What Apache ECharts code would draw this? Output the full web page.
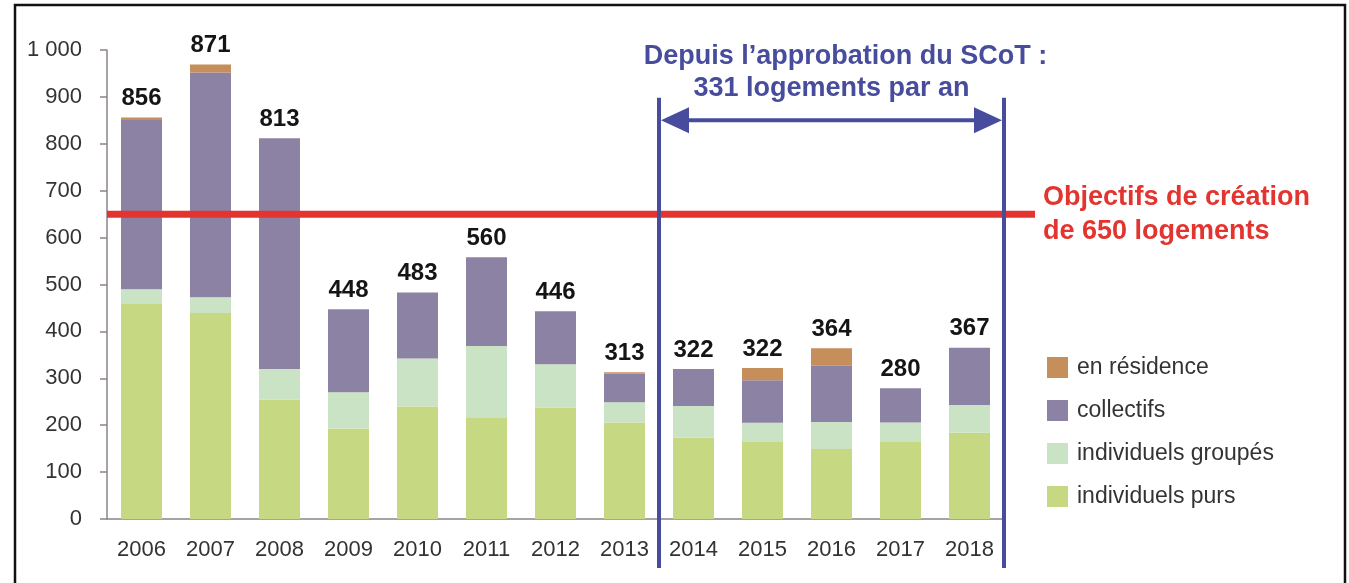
<html>

<head>
    <meta charset='utf-8' />
    <script src="https://cdn.jsdelivr.net/npm/echarts@6/dist/echarts.min.js"></script>
    <title>Logements</title>
    <style>
        html,
        body {
            margin: 0;
            padding: 0;
            background: #fff;
            overflow: hidden;
        }
        
        #chart {
            width: 1349px;
            height: 583px;
        }
    </style>
</head>

<body>
    <div id="chart"></div>
    <script type="text/javascript">
        var years = ['2006', '2007', '2008', '2009', '2010', '2011', '2012', '2013', '2014', '2015', '2016', '2017', '2018'];
        var individuelsPurs = [460, 439, 254, 193, 240, 217, 237, 206, 174, 164, 149, 166, 184];
        var individuelsGroupes = [30, 34, 66, 77, 102, 152, 93, 43, 67, 41, 58, 40, 59];
        var collectifs = [361, 479, 492, 176, 141, 189, 113, 61, 79, 91, 120, 73, 122];
        var enResidence = [5, 17, 0, 2, 0, 0, 0, 3, 0, 26, 37, 0, 0];
        var totalLabels = ['856', '871', '813', '448', '483', '560', '446', '313', '322', '322', '364', '280', '367'];
        var yTicks = [0, 100, 200, 300, 400, 500, 600, 700, 800, 900, 1000];
        var objectif = 650;
        var scotStart = '2014';
        var scotEnd = '2018';

        var font = 'Liberation Sans, Arial, sans-serif';
        var blue = '#474c9c';
        var red = '#e3342f';

        var chart = echarts.init(document.getElementById('chart'));

        var option = {
            animation: false,
            textStyle: {
                fontFamily: font
            },
            grid: {
                left: 107,
                right: 345,
                top: 50,
                bottom: 64
            },
            legend: {
                orient: 'vertical',
                left: 1042,
                top: 351,
                itemWidth: 21,
                itemHeight: 21,
                itemGap: 20,
                icon: 'rect',
                data: ['en résidence', 'collectifs', 'individuels groupés', 'individuels purs'],
                textStyle: {
                    fontSize: 23,
                    color: '#333',
                    padding: [0, 0, 0, 4]
                }
            },
            xAxis: {
                type: 'category',
                data: years,
                axisLine: {
                    lineStyle: {
                        color: '#8c8489',
                        width: 1.5
                    }
                },
                axisTick: {
                    length: 7,
                    lineStyle: {
                        color: '#8c8489',
                        width: 1.5
                    }
                },
                axisLabel: {
                    fontSize: 22,
                    color: '#333',
                    margin: 20
                }
            },
            yAxis: {
                type: 'value',
                min: yTicks[0],
                max: yTicks[yTicks.length - 1],
                interval: 100,
                splitLine: {
                    show: false
                },
                axisLine: {
                    show: true,
                    lineStyle: {
                        color: '#8c8489',
                        width: 1.5
                    }
                },
                axisTick: {
                    show: true,
                    length: 7,
                    lineStyle: {
                        color: '#8c8489',
                        width: 1.5
                    }
                },
                axisLabel: {
                    fontSize: 22,
                    color: '#333',
                    margin: 25,
                    formatter: function(v) {
                        return v >= 1000 ? '1 000' : String(v);
                    }
                }
            },
            series: [{
                name: 'individuels purs',
                type: 'bar',
                stack: 'total',
                barWidth: 41,
                data: individuelsPurs,
                itemStyle: {
                    color: '#c6d982'
                }
            }, {
                name: 'individuels groupés',
                type: 'bar',
                stack: 'total',
                data: individuelsGroupes,
                itemStyle: {
                    color: '#cbe3c5'
                }
            }, {
                name: 'collectifs',
                type: 'bar',
                stack: 'total',
                data: collectifs,
                itemStyle: {
                    color: '#8c82a3'
                }
            }, {
                name: 'en résidence',
                type: 'bar',
                stack: 'total',
                data: enResidence,
                itemStyle: {
                    color: '#c68e5b'
                }
            }, {
                name: 'total',
                type: 'bar',
                stack: 'total',
                data: years.map(function() {
                    return 0;
                }),
                itemStyle: {
                    color: 'transparent'
                },
                label: {
                    show: true,
                    position: 'top',
                    distance: 7,
                    fontSize: 24,
                    fontWeight: 'bold',
                    color: '#151515',
                    formatter: function(p) {
                        return totalLabels[p.dataIndex];
                    }
                }
            }]
        };

        chart.setOption(option);

        // annotations placed from the axes
        var c13 = chart.convertToPixel({ xAxisIndex: 0 }, years[years.indexOf(scotStart) - 1]);
        var c14 = chart.convertToPixel({ xAxisIndex: 0 }, scotStart);
        var c18 = chart.convertToPixel({ xAxisIndex: 0 }, scotEnd);
        var band = c14 - c13;
        var xL = (c13 + c14) / 2;
        var xR = c18 + band / 2;
        var yTop = chart.convertToPixel({ yAxisIndex: 0 }, 898);
        var yArrow = chart.convertToPixel({ yAxisIndex: 0 }, 850);
        var y0 = chart.convertToPixel({ yAxisIndex: 0 }, 0);
        var yObj = chart.convertToPixel({ yAxisIndex: 0 }, objectif);
        var xAxisStart = chart.convertToPixel({ xAxisIndex: 0 }, years[0]) - band / 2;
        var mid = (xL + xR) / 2;

        chart.setOption({
            graphic: [{
                type: 'rect',
                z: 100,
                shape: { x: 15, y: 5, width: 1330, height: 620 },
                style: { fill: 'none', stroke: '#111', lineWidth: 2.5 }
            }, {
                type: 'line',
                z: 50,
                shape: { x1: xAxisStart, y1: yObj, x2: 1035, y2: yObj },
                style: { stroke: red, lineWidth: 7 }
            }, {
                type: 'line',
                z: 60,
                shape: { x1: xL, y1: yTop, x2: xL, y2: y0 + 49 },
                style: { stroke: blue, lineWidth: 4 }
            }, {
                type: 'line',
                z: 60,
                shape: { x1: xR, y1: yTop, x2: xR, y2: y0 + 49 },
                style: { stroke: blue, lineWidth: 4 }
            }, {
                type: 'line',
                z: 60,
                shape: { x1: xL + 20, y1: yArrow, x2: xR - 20, y2: yArrow },
                style: { stroke: blue, lineWidth: 4 }
            }, {
                type: 'polygon',
                z: 60,
                shape: { points: [[xL + 2, yArrow], [xL + 30, yArrow - 13], [xL + 30, yArrow + 13]] },
                style: { fill: blue }
            }, {
                type: 'polygon',
                z: 60,
                shape: { points: [[xR - 2, yArrow], [xR - 30, yArrow - 13], [xR - 30, yArrow + 13]] },
                style: { fill: blue }
            }, {
                type: 'text',
                z: 60,
                x: mid + 14,
                y: 57,
                style: {
                    text: 'Depuis l\u2019approbation du SCoT :',
                    fill: blue,
                    font: 'bold 27px ' + font,
                    align: 'center',
                    verticalAlign: 'middle'
                }
            }, {
                type: 'text',
                z: 60,
                x: mid,
                y: 89,
                style: {
                    text: '331 logements par an',
                    fill: blue,
                    font: 'bold 27px ' + font,
                    align: 'center',
                    verticalAlign: 'middle'
                }
            }, {
                type: 'text',
                z: 60,
                x: 1043,
                y: 198,
                style: {
                    text: 'Objectifs de création',
                    fill: red,
                    font: 'bold 27px ' + font,
                    verticalAlign: 'middle'
                }
            }, {
                type: 'text',
                z: 60,
                x: 1043,
                y: 232,
                style: {
                    text: 'de 650 logements',
                    fill: red,
                    font: 'bold 27px ' + font,
                    verticalAlign: 'middle'
                }
            }]
        });
    </script>
</body>

</html>
